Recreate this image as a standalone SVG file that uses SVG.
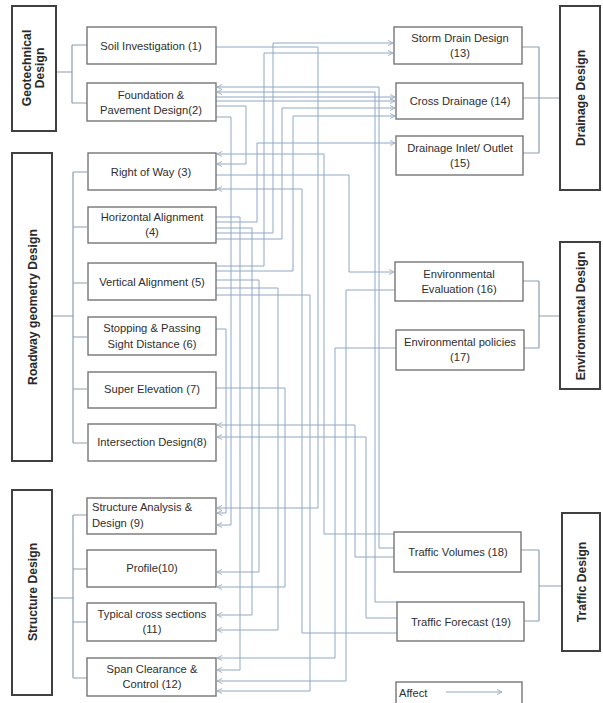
<svg xmlns="http://www.w3.org/2000/svg" width="603" height="703" viewBox="0 0 603 703">
  <style>
    .cat { fill: #ffffff; stroke: #404040; stroke-width: 2; }
    .box { fill: #ffffff; stroke: #767676; stroke-width: 1.4; }
    .lbl { font-family: "Liberation Sans", Arial, sans-serif; font-size: 11.2px; fill: #2e2e2e; text-anchor: middle; }
    .lbl-l { text-anchor: start; }
    .catlbl { font-family: "Liberation Sans", Arial, sans-serif; font-size: 12.2px; font-weight: bold; fill: #2a2a2a; text-anchor: middle; }
    .wire { fill: none; stroke: #92a8c6; stroke-width: 1; }
    .arrow { marker-end: url(#chev); }
    .spine { fill: none; stroke: #8d9db0; stroke-width: 1.2; }
  </style>
  <defs>
    <marker id="chev" viewBox="0 0 6 6" refX="5.5" refY="3" markerWidth="6" markerHeight="6" markerUnits="userSpaceOnUse" orient="auto">
      <path d="M0.5,0.5 L5.5,3 L0.5,5.5" fill="none" stroke="#9aaac0" stroke-width="0.9"/>
    </marker>
  </defs>
  <rect width="603" height="703" fill="#ffffff"/>

  <!-- wiring between tasks -->
  <g id="connectors">
    <!-- category trees -->
    <path class="spine" d="M56,72 H72 M72,45 V103 M72,45 H87 M72,103 H87"/>
    <path class="spine" d="M52,316 H73 M73,172 V443 M73,172 H87 M73,227 H87 M73,283 H87 M73,337 H87 M73,389 H87 M73,443 H87"/>
    <path class="spine" d="M52,598 H73 M73,515 V678 M73,515 H87 M73,569 H87 M73,622 H87 M73,678 H87"/>
    <path class="spine" d="M522,47 H539 M523,98 H560 M523,153 H539 M539,47 V153"/>
    <path class="spine" d="M523,281 H539 M524,348 H539 M539,281 V348 M539,316 H560"/>
    <path class="spine" d="M521,550 H539 M524,621 H539 M539,550 V621 M539,586 H562"/>

    <!-- "affect" relations -->
    <polyline class="wire arrow" points="216,47 318,47 318,508 217,508"/>
    <polyline class="wire arrow" points="216,233 273,233 273,43 393,43"/>
    <polyline class="wire arrow" points="216,266 264,266 264,53 393,53"/>
    <polyline class="wire arrow" points="394,548 379,548 379,87 217,87"/>
    <polyline class="wire arrow" points="397,602 375,602 375,92 217,92"/>
    <polyline class="wire arrow" points="216,97 395,97"/>
    <polyline class="wire arrow" points="216,101 395,101"/>
    <polyline class="wire arrow" points="216,106 246,106 246,164 217,164"/>
    <polyline class="wire arrow" points="216,239 282,239 282,108 395,108"/>
    <polyline class="wire arrow" points="216,271 293,271 293,116 395,116"/>
    <polyline class="wire arrow" points="216,222 257,222 257,143 395,143"/>
    <polyline class="wire arrow" points="216,117 231,117 231,525 217,525"/>
    <polyline class="wire arrow" points="394,534 324,534 324,154 217,154"/>
    <polyline class="wire arrow" points="216,175 349,175 349,272 394,272"/>
    <polyline class="wire arrow" points="397,633 302,633 302,189 217,189"/>
    <polyline class="wire arrow" points="216,217 240,217 240,670 217,670"/>
    <polyline class="wire arrow" points="216,228 252,228 252,615 217,615"/>
    <polyline class="wire arrow" points="216,280 259,280 259,572 217,572"/>
    <polyline class="wire arrow" points="216,288 278,288 278,630 217,630"/>
    <polyline class="wire arrow" points="216,295 310,295 310,691 217,691"/>
    <polyline class="wire arrow" points="216,329 226,329 226,513 217,513"/>
    <polyline class="wire arrow" points="216,388 285,388 285,587 217,587"/>
    <polyline class="wire arrow" points="396,348 335,348 335,658 217,658"/>
    <polyline class="wire arrow" points="395,290 346,290 346,681 217,681"/>
    <polyline class="wire arrow" points="394,557 355,557 355,425 217,425"/>
    <polyline class="wire arrow" points="397,618 366,618 366,437 217,437"/>
  </g>

  <!-- design categories -->
  <g id="cat-geotechnical">
    <rect class="cat" x="12" y="6" width="44" height="125"/>
    <text class="catlbl" transform="translate(31,68) rotate(-90)">Geotechnical</text>
    <text class="catlbl" transform="translate(44,68) rotate(-90)">Design</text>
  </g>
  <g id="cat-roadway">
    <rect class="cat" x="12" y="153" width="40" height="308"/>
    <text class="catlbl" transform="translate(37,307) rotate(-90)">Roadway geometry Design</text>
  </g>
  <g id="cat-structure">
    <rect class="cat" x="12" y="490" width="40" height="205"/>
    <text class="catlbl" transform="translate(37,592) rotate(-90)">Structure Design</text>
  </g>
  <g id="cat-drainage">
    <rect class="cat" x="560" y="6" width="40" height="184"/>
    <text class="catlbl" transform="translate(585,98) rotate(-90)">Drainage Design</text>
  </g>
  <g id="cat-environmental">
    <rect class="cat" x="560" y="242" width="40" height="147"/>
    <text class="catlbl" transform="translate(585,316) rotate(-90)">Environmental Design</text>
  </g>
  <g id="cat-traffic">
    <rect class="cat" x="562" y="513" width="38" height="138"/>
    <text class="catlbl" transform="translate(586,582) rotate(-90)">Traffic Design</text>
  </g>

  <!-- tasks -->
  <g id="n1"><rect class="box" x="87" y="27" width="129" height="37"/><text class="lbl" x="151" y="50">Soil Investigation (1)</text></g>
  <g id="n2"><rect class="box" x="87" y="83" width="129" height="38"/><text class="lbl" x="151" y="99">Foundation &amp;</text><text class="lbl" x="151" y="114">Pavement Design(2)</text></g>
  <g id="n3"><rect class="box" x="88" y="153" width="128" height="37"/><text class="lbl" x="151" y="176">Right of Way (3)</text></g>
  <g id="n4"><rect class="box" x="88" y="207" width="128" height="36"/><text class="lbl" x="152" y="221">Horizontal Alignment</text><text class="lbl" x="152" y="236">(4)</text></g>
  <g id="n5"><rect class="box" x="88" y="263" width="128" height="37"/><text class="lbl" x="152" y="286">Vertical Alignment (5)</text></g>
  <g id="n6"><rect class="box" x="88" y="317" width="128" height="38"/><text class="lbl" x="152" y="332">Stopping &amp; Passing</text><text class="lbl" x="152" y="348">Sight Distance (6)</text></g>
  <g id="n7"><rect class="box" x="88" y="372" width="128" height="36"/><text class="lbl" x="152" y="393">Super Elevation (7)</text></g>
  <g id="n8"><rect class="box" x="88" y="424" width="128" height="37"/><text class="lbl" x="152" y="446">Intersection Design(8)</text></g>
  <g id="n9"><rect class="box" x="87" y="498" width="129" height="36"/><text class="lbl lbl-l" x="92" y="511">Structure Analysis &amp;</text><text class="lbl lbl-l" x="92" y="527">Design (9)</text></g>
  <g id="n10"><rect class="box" x="87" y="550" width="129" height="37"/><text class="lbl" x="152" y="572">Profile(10)</text></g>
  <g id="n11"><rect class="box" x="87" y="603" width="129" height="38"/><text class="lbl" x="152" y="618">Typical cross sections</text><text class="lbl" x="152" y="633">(11)</text></g>
  <g id="n12"><rect class="box" x="87" y="658" width="129" height="38"/><text class="lbl" x="152" y="673">Span Clearance &amp;</text><text class="lbl" x="152" y="688">Control (12)</text></g>

  <g id="n13"><rect class="box" x="394" y="27" width="128" height="37"/><text class="lbl" x="460" y="42">Storm Drain Design</text><text class="lbl" x="460" y="57">(13)</text></g>
  <g id="n14"><rect class="box" x="396" y="83" width="127" height="36"/><text class="lbl" x="460" y="105">Cross Drainage (14)</text></g>
  <g id="n15"><rect class="box" x="396" y="136" width="127" height="39"/><text class="lbl" x="460" y="152">Drainage Inlet/ Outlet</text><text class="lbl" x="460" y="167">(15)</text></g>
  <g id="n16"><rect class="box" x="395" y="262" width="128" height="39"/><text class="lbl" x="459" y="278">Environmental</text><text class="lbl" x="459" y="293">Evaluation (16)</text></g>
  <g id="n17"><rect class="box" x="396" y="330" width="128" height="40"/><text class="lbl" x="460" y="346">Environmental policies</text><text class="lbl" x="460" y="361">(17)</text></g>
  <g id="n18"><rect class="box" x="394" y="532" width="127" height="40"/><text class="lbl" x="458" y="556">Traffic Volumes (18)</text></g>
  <g id="n19"><rect class="box" x="397" y="602" width="127" height="39"/><text class="lbl" x="461" y="626">Traffic Forecast (19)</text></g>

  <!-- legend -->
  <g id="legend">
    <rect class="box" x="396" y="682" width="126" height="26"/>
    <text class="lbl lbl-l" x="399" y="697">Affect</text>
    <line class="wire arrow" x1="446" y1="692" x2="502" y2="692"/>
  </g>
</svg>
